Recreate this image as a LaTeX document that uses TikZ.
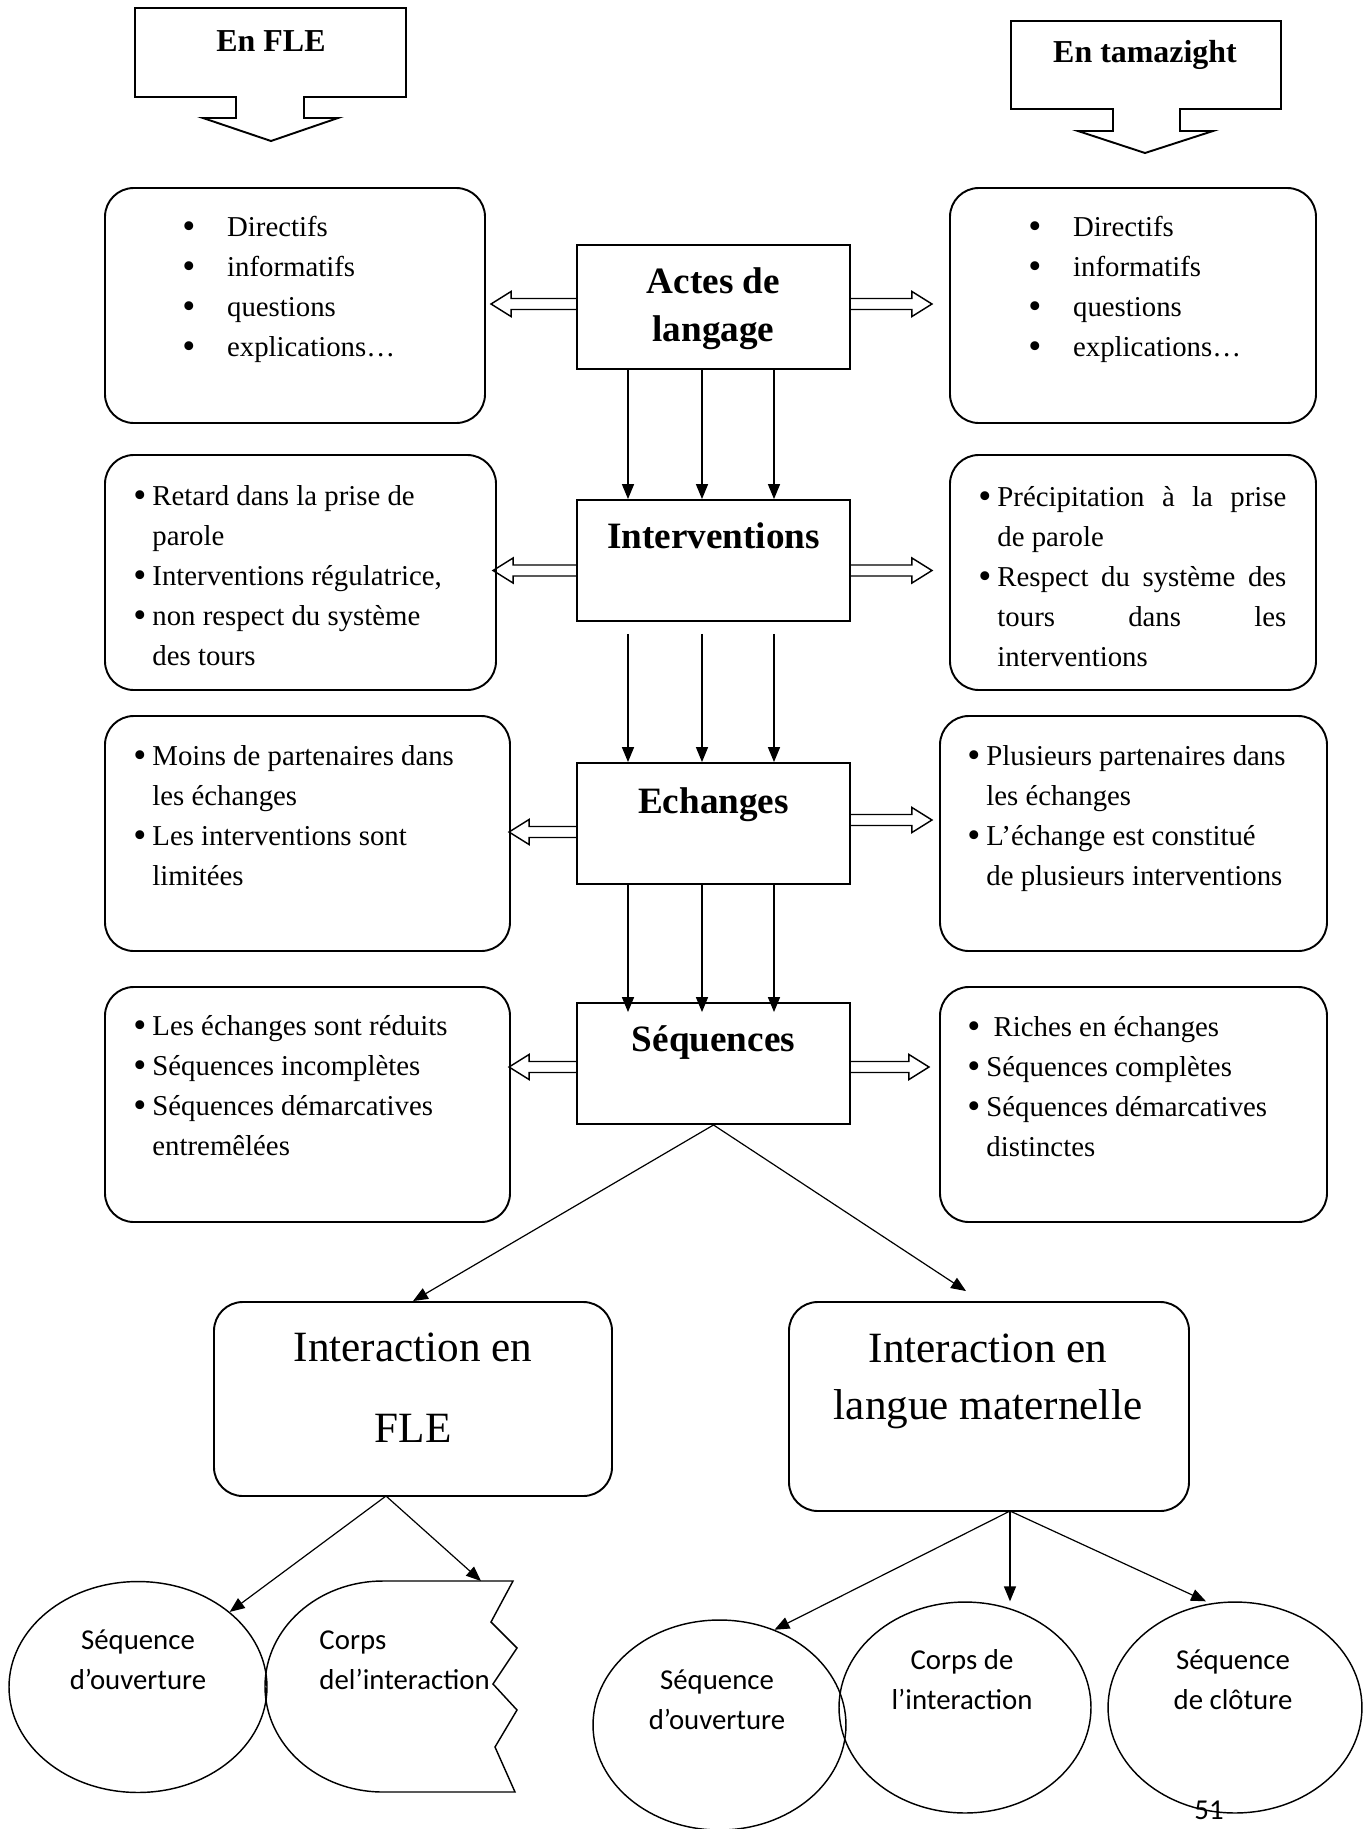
\documentclass[tikz,border=0pt]{standalone}
\usepackage{fontspec}
\setmainfont{Liberation Serif}
\newfontfamily\calibri{Carlito}
\usetikzlibrary{arrows.meta,calc,fit,shapes.geometric}

\newcommand{\dotmark}{\raisebox{-0.7pt}{\fontsize{15.5}{15.5}\selectfont\textbullet}}
\newcommand{\bul}{\makebox[7.9pt][l]{\dotmark}}
\newcommand{\nobul}{\makebox[7.9pt]{}}
\newcommand{\bulwide}{\makebox[18.6pt][l]{\dotmark}}
\newcommand{\jline}[1]{\makebox[120.4pt][s]{#1}}
% hollow block arrow: start, direction (1 right, -1 left), length
\newcommand{\blockarrow}[3]{%
  \draw[blockline, shift={(#1)}, xscale=#2] (0,-0.55) -- ({#3-2},-0.55) -- ({#3-2},-1.25)
    -- (#3,0) -- ({#3-2},1.25) -- ({#3-2},0.55) -- (0,0.55);}

\tikzset{
  box/.style={draw, line width=0.8pt, inner sep=0pt},
  roundbox/.style={box, rounded corners=12pt},
  blockline/.style={line width=0.6pt},
  arr/.style={-{Triangle[length=6.2pt,width=5pt]}, line width=0.5pt},
  txt/.style={inner sep=0pt, anchor=north west, align=left, font=\fontsize{12}{16.7}\selectfont},
  title/.style={inner sep=0pt, anchor=north, align=center, font=\bfseries\fontsize{15.5}{20}\selectfont},
  head/.style={inner sep=0pt, anchor=north, font=\bfseries\fontsize{13.3}{16}\selectfont},
  oval/.style={draw, ellipse, line width=0.6pt, inner sep=0pt},
  ovaltxt/.style={inner sep=0pt, align=center, font=\calibri\fontsize{12}{16.7}\selectfont}
}

\begin{document}
\begin{tikzpicture}[x=4.167pt, y=-4.167pt]
    \useasboundingbox (0,0) rectangle (136.4,182.9);

    % headings
    \draw[box] (23.6,9.7) -- (13.5,9.7) -- (13.5,0.8) -- (40.6,0.8) -- (40.6,9.7) -- (30.4,9.7)
        -- (30.4,11.8) -- (33.8,11.8) -- (27.1,14.1) -- (20.3,11.8) -- (23.6,11.8) -- cycle;
    \node[head] (fleHead) at (27.1,3.0) {En FLE};
    \draw[box] (111.3,10.9) -- (101.1,10.9) -- (101.1,2.1) -- (128.1,2.1) -- (128.1,10.9) -- (118.0,10.9)
        -- (118.0,13.1) -- (121.3,13.1) -- (114.5,15.3) -- (107.8,13.1) -- (111.3,13.1) -- cycle;
    \node[head] (tamHead) at (114.5,4.0) {En tamazight};

    % central column
    \node[box, fit={(57.7,24.5) (85.0,36.9)}] (act) {};
    \node[title] (actT) at (71.35,26.7) {Actes de\\langage};
    \node[box, fit={(57.7,50.0) (85.0,62.1)}] (intv) {};
    \node[title] (intvT) at (71.35,52.2) {Interventions};
    \node[box, fit={(57.7,76.3) (85.0,88.4)}] (ech) {};
    \node[title] (echT) at (71.35,78.7) {Echanges};
    \node[box, fit={(57.7,100.3) (85.0,112.4)}] (seq) {};
    \node[title] (seqT) at (71.35,102.5) {Séquences};

    \foreach \dx in {-8.55,-1.15,6.05}{
        \draw[arr] ($(act.south)+(\dx,0)$) -- ($(intv.north)+(\dx,0)$);
        \draw[arr] ($(intv.south)+(\dx,1.2)$) -- ($(ech.north)+(\dx,0)$);
        \draw[arr] ($(ech.south)+(\dx,0)$) -- ($(seq.north)+(\dx,1.0)$);
    }

    % FLE side
    \node[roundbox, fit={(10.5,18.8) (48.5,42.3)}] (fleA) {};
    \node[txt] (fleAtxt) at (18.2,21.6) {\bulwide Directifs\\ \bulwide informatifs\\ \bulwide questions\\ \bulwide explications…};
    \node[roundbox, fit={(10.5,45.5) (49.6,69.0)}] (fleB) {};
    \node[txt] (fleBtxt) at (13.3,48.5) {\bul Retard dans la prise de\\ \nobul parole\\ \bul Interventions régulatrice,\\ \bul non respect du système\\ \nobul des tours};
    \node[roundbox, fit={(10.5,71.6) (51.0,95.1)}] (fleC) {};
    \node[txt] (fleCtxt) at (13.3,74.5) {\bul Moins de partenaires dans\\ \nobul les échanges\\ \bul Les interventions sont\\ \nobul limitées};
    \node[roundbox, fit={(10.5,98.7) (51.0,122.2)}] (fleD) {};
    \node[txt] (fleDtxt) at (13.3,101.5) {\bul Les échanges sont réduits\\ \bul Séquences incomplètes\\ \bul Séquences démarcatives\\ \nobul entremêlées};

    % tamazight side
    \node[roundbox, fit={(95.0,18.8) (131.6,42.3)}] (tamA) {};
    \node[txt] (tamAtxt) at (102.8,21.6) {\bulwide Directifs\\ \bulwide informatifs\\ \bulwide questions\\ \bulwide explications…};
    \node[roundbox, fit={(95.0,45.5) (131.6,69.0)}] (tamB) {};
    \node[txt] (tamBtxt) at (97.8,48.6) {\bul\jline{Précipitation à la prise}\\ \nobul de parole\\ \bul\jline{Respect du système des}\\ \nobul\jline{tours dans les}\\ \nobul interventions};
    \node[roundbox, fit={(94.0,71.6) (132.7,95.1)}] (tamC) {};
    \node[txt] (tamCtxt) at (96.7,74.5) {\bul Plusieurs partenaires dans\\ \nobul les échanges\\ \bul L’échange est constitué\\ \nobul de plusieurs interventions};
    \node[roundbox, fit={(94.0,98.7) (132.7,122.2)}] (tamD) {};
    \node[txt] (tamDtxt) at (96.7,101.6) {\bul\ Riches en échanges\\ \bul Séquences complètes\\ \bul Séquences démarcatives\\ \nobul distinctes};

    % hollow arrows
    \blockarrow{$(act.west)+(0,-0.3)$}{-1}{8.5}
    \blockarrow{$(act.east)+(0,-0.3)$}{1}{8.1}
    \blockarrow{$(intv.west)+(0,1.0)$}{-1}{8.3}
    \blockarrow{$(intv.east)+(0,1.0)$}{1}{8.1}
    \blockarrow{$(ech.west)+(0,0.85)$}{-1}{6.7}
    \blockarrow{$(ech.east)+(0,-0.35)$}{1}{8.1}
    \blockarrow{$(seq.west)+(0,0.35)$}{-1}{6.7}
    \blockarrow{$(seq.east)+(0,0.35)$}{1}{7.8}

    % interactions
    \node[roundbox, fit={(21.4,130.2) (61.2,149.6)}] (fleI) {};
    \node[inner sep=0pt, anchor=north, align=center, font=\fontsize{18}{33.75}\selectfont] (fleIT) at (41.3,133.2) {Interaction en\\FLE};
    \node[roundbox, fit={(78.9,130.2) (118.9,151.1)}] (lmI) {};
    \node[inner sep=0pt, anchor=north, align=center, font=\fontsize{18}{24}\selectfont] (lmIT) at (98.8,133.3) {Interaction en\\langue maternelle};
    \draw[arr] (seq.south) -- (fleI.north);
    \draw[arr] (seq.south) -- ($(lmI.north)+(-2.3,-1.0)$);

    % FLE sequences
    \coordinate (fleFoot) at (38.6,149.6);
    \node[oval, minimum width=107.5pt, minimum height=87.9pt] (e1) at (13.8,168.7) {};
    \node[ovaltxt] (e1txt) at (13.8,166.0) {Séquence\\d’ouverture};
    \draw[line width=0.6pt] (51.3,158.1) -- (38.3,158.1) .. controls (31.78,158.1) and (26.5,162.82) .. (26.5,168.65)
        .. controls (26.5,174.48) and (31.78,179.2) .. (38.3,179.2) -- (51.5,179.2) -- (49.5,174.7) -- (51.7,171.0)
        -- (49.3,168.4) -- (51.7,164.8) -- (49.1,162.2) -- cycle;
    \coordinate (corpsTop) at (48.1,158.1);
    \node[ovaltxt, anchor=west, align=left] (corpsTxt) at (31.9,166.0) {Corps\\del’interaction};
    \draw[arr] (fleFoot) -- (e1.north east);
    \draw[arr] (fleFoot) -- (corpsTop);

    % mother tongue sequences
    \coordinate (lmFoot) at (101.0,151.1);
    \node[oval, minimum width=105.4pt, minimum height=87.5pt] (e3) at (71.95,172.5) {};
    \node[ovaltxt] (e3txt) at (71.7,170.0) {Séquence\\d’ouverture};
    \node[oval, minimum width=105.0pt, minimum height=87.9pt] (e4) at (96.5,170.75) {};
    \node[ovaltxt] (e4txt) at (96.2,168.0) {Corps de\\l’interaction};
    \node[oval, minimum width=105.8pt, minimum height=87.9pt] (e5) at (123.5,170.75) {};
    \node[ovaltxt] (e5txt) at (123.3,168.0) {Séquence\\de clôture};
    \draw[arr] (lmFoot) -- (e3.60);
    \draw[arr] (lmFoot) -- (lmFoot |- e4.north);
    \draw[arr] (lmFoot) -- ($(e5.north)+(-2.9,0)$);

    \node[inner sep=0pt, anchor=north, font=\calibri\fontsize{12}{14}\selectfont] (pageNum) at (120.9,180.0) {51};
\end{tikzpicture}
\end{document}
